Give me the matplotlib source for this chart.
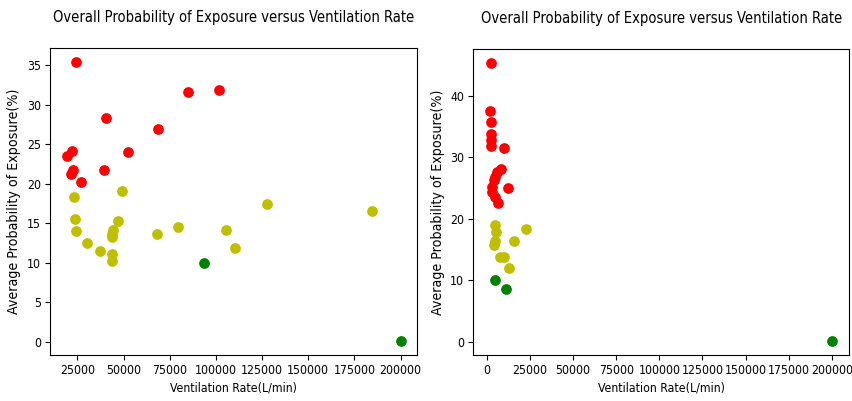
import matplotlib
matplotlib.use("Agg")
import matplotlib.pyplot as plt

plt.rcParams['font.family'] = ['DejaVu Sans']
plt.rcParams['font.stretch'] = 'condensed'

# ---- Left panel data ----
left_red_x = [24100, 85000, 101900, 40300, 68700, 52450, 19200, 22300, 22800, 21750, 27000, 39600]
left_red_y = [35.4, 31.6, 31.9, 28.4, 27.0, 24.0, 23.5, 24.2, 21.7, 21.3, 20.2, 21.7]
left_yel_x = [23000, 49400, 127600, 184700, 23500, 24500, 30300, 37100, 47200,
              44300, 43900, 43700, 43800, 43800, 68200, 79500, 105600, 110600]
left_yel_y = [18.3, 19.1, 17.5, 16.6, 15.5, 14.0, 12.5, 11.5, 15.3,
              14.1, 13.7, 13.3, 11.1, 10.2, 13.7, 14.6, 14.2, 11.9]
left_grn_x = [93400, 200000]
left_grn_y = [10.0, 0.1]

# ---- Right panel data ----
right_red_x = [2700, 2100, 2300, 2500, 2500, 2400, 10000, 8300, 12500,
               6000, 5000, 4000, 3000, 3200, 5000, 6500]
right_red_y = [45.3, 37.5, 35.7, 33.8, 32.8, 31.8, 31.5, 28.1, 25.0,
               27.6, 26.8, 26.3, 25.2, 24.3, 23.5, 22.5]
right_yel_x = [5000, 5600, 5000, 4200, 22800, 15600, 7900, 9800, 13100]
right_yel_y = [19.0, 17.8, 16.4, 15.7, 18.3, 16.4, 13.7, 13.7, 12.0]
right_grn_x = [5000, 11400, 200000]
right_grn_y = [10.0, 8.5, 0.1]

title = "Overall Probability of Exposure versus Ventilation Rate"
xlabel = "Ventilation Rate(L/min)"
ylabel = "Average Probability of Exposure(%)"
left_xticks = [25000, 50000, 75000, 100000, 125000, 150000, 175000, 200000]
right_xticks = [0, 25000, 50000, 75000, 100000, 125000, 150000, 175000, 200000]

fig = plt.figure(figsize=(8.53, 4.01), dpi=100)
ax1 = fig.add_axes([50/853, 46/401, 367.3/853, 306.7/401])
ax2 = fig.add_axes([473.3/853, 46/401, 375.7/853, 306/401])

S = 45
for ax, (rx, ry, yx, yy, gx, gy), xt in [
        (ax1, (left_red_x, left_red_y, left_yel_x, left_yel_y, left_grn_x, left_grn_y), left_xticks),
        (ax2, (right_red_x, right_red_y, right_yel_x, right_yel_y, right_grn_x, right_grn_y), right_xticks)]:
    ax.scatter(rx, ry, c='r', s=S)
    ax.scatter(yx, yy, c='y', s=S)
    ax.scatter(gx, gy, c='g', s=S)
    ax.set_xticks(xt)
    ax.set_title(title, fontsize=10.5, pad=19)
    ax.set_xlabel(xlabel, fontsize=8.8, labelpad=3)
    ax.set_ylabel(ylabel, fontsize=10.2)
    ax.tick_params(labelsize=8.8, pad=3)

ax1.set_yticks([0, 5, 10, 15, 20, 25, 30, 35])
ax2.set_yticks([0, 10, 20, 30, 40])

fig.savefig("out.png", dpi=100)
